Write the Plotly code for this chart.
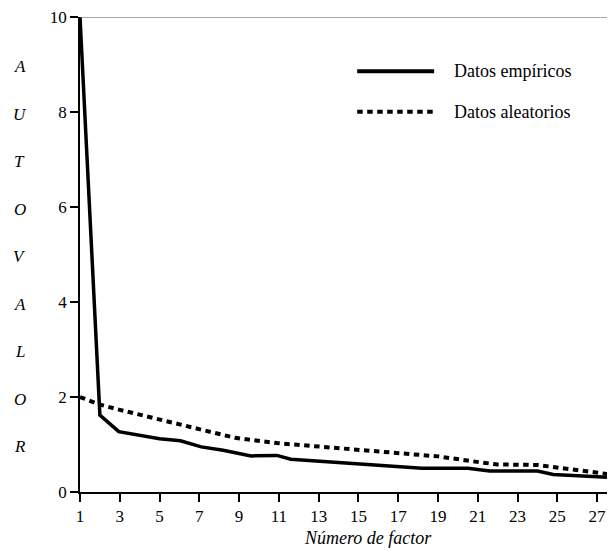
import plotly.graph_objects as go

emp_x = [1.0, 2.0, 2.95, 4.0, 5.0, 6.05, 7.1, 8.2, 9.6, 10.9, 11.6, 18.2, 20.5, 21.6, 24.0, 24.8, 26.5, 27.5]
emp_y = [10.0, 1.62, 1.27, 1.19, 1.12, 1.08, 0.95, 0.88, 0.76, 0.77, 0.69, 0.50, 0.50, 0.44, 0.44, 0.37, 0.33, 0.31]

# Random-data eigenvalues
rnd_x = [1.0, 2.0, 3.0, 5.0, 7.0, 8.8, 10.9, 12.9, 16.0, 18.0, 19.0, 21.2, 22.0, 24.0, 25.0, 27.5]
rnd_y = [2.00, 1.84, 1.73, 1.52, 1.32, 1.14, 1.03, 0.96, 0.87, 0.80, 0.75, 0.62, 0.58, 0.57, 0.51, 0.38]

series_names = ["Datos empíricos", "Datos aleatorios"]
x_ticks = list(range(1, 28, 2))
y_ticks = [0, 2, 4, 6, 8, 10]
y_title_letters = ["A", "U", "T", "O", "V", "A", "L", "O", "R"]

FONT = "Liberation Serif, Times New Roman, serif"
DOT = "5.5px,4.5px"

fig = go.Figure()
fig.add_trace(go.Scatter(x=emp_x, y=emp_y, mode="lines", name=series_names[0],
                         line=dict(color="black", width=3.5), showlegend=False))
fig.add_trace(go.Scatter(x=rnd_x, y=rnd_y, mode="lines", name=series_names[1],
                         line=dict(color="black", width=4, dash=DOT), showlegend=False))

# plot area: 527 px wide, 475 px tall
annotations = []
for i, letter in enumerate(y_title_letters):
    annotations.append(dict(text=letter, x=-0.114, xref="paper", y=8.95 - i, yref="y",
                            showarrow=False, xanchor="center", yanchor="middle",
                            font=dict(family=FONT, size=17, color="black", style="italic")))
annotations.append(dict(text="Número de factor", x=0.546, xref="paper", y=-0.097, yref="paper",
                        showarrow=False, xanchor="center", yanchor="middle",
                        font=dict(family=FONT, size=18, color="black", style="italic")))

# manual legend
leg_y = [0.886, 0.8006]
leg_dash = ["solid", DOT]
shapes = [dict(type="line", xref="paper", yref="y", x0=0, x1=1, y0=10, y1=10,
               line=dict(color="#555555", width=1))]
for name, ly, dsh in zip(series_names, leg_y, leg_dash):
    shapes.append(dict(type="line", xref="paper", yref="paper", x0=0.526, x1=0.672, y0=ly, y1=ly,
                       line=dict(color="black", width=4, dash=dsh)))
    annotations.append(dict(text=name, x=0.706, xref="paper", y=ly, yref="paper",
                            showarrow=False, xanchor="left", yanchor="middle",
                            font=dict(family=FONT, size=18, color="black")))

fig.update_layout(
    width=615, height=551,
    margin=dict(l=72, r=16, t=9, b=67),
    paper_bgcolor="white", plot_bgcolor="white",
    font=dict(family=FONT, size=17, color="black"),
    showlegend=False,
    xaxis=dict(range=[1, 27.5], tickvals=x_ticks, ticktext=[str(v) for v in x_ticks],
               showgrid=False, zeroline=False, showline=True, linecolor="black", linewidth=1.5,
               ticks="outside", ticklen=8, tickwidth=1.5, tickcolor="black",
               ticklabeloverflow="allow", automargin=False,
               tickfont=dict(family=FONT, size=17, color="black")),
    yaxis=dict(range=[0, 10], tickvals=y_ticks, ticktext=[str(v) for v in y_ticks],
               showgrid=False, zeroline=False, showline=True, linecolor="black", linewidth=1.5,
               ticks="outside", ticklen=8, tickwidth=1.5, tickcolor="black",
               ticklabeloverflow="allow", automargin=False,
               tickfont=dict(family=FONT, size=17, color="black")),
    shapes=shapes,
    annotations=annotations,
)

fig.write_html("out.html")
